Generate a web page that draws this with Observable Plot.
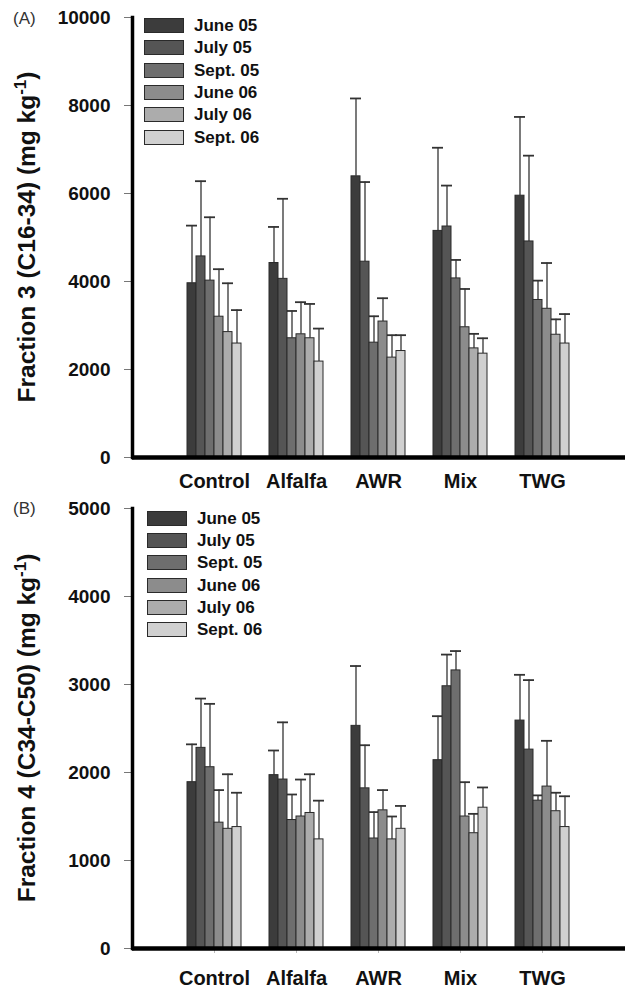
<!DOCTYPE html>
<html><head><meta charset="utf-8">
<script src="https://cdn.jsdelivr.net/npm/d3@7"></script>
<script src="https://cdn.jsdelivr.net/npm/@observablehq/plot@0.6"></script>
<style>
body{margin:0;background:#fff;font-family:"Liberation Sans",Arial,sans-serif;}
.panel{position:relative;width:625px;height:494px;overflow:hidden;background:#fff;}
.panel svg{position:absolute;left:0;top:0;}
.sw{position:absolute;width:38px;height:13px;border:1px solid #2a2a2a;}
.lb{position:absolute;font-size:17px;font-weight:bold;line-height:15px;color:#111;white-space:nowrap;}
</style></head><body>
<div id="A" class="panel"></div>
<div id="B" class="panel"></div>
<script>
const categories = ["Control", "Alfalfa", "AWR", "Mix", "TWG"];
const seasons = ["June 05", "July 05", "Sept. 05", "June 06", "July 06", "Sept. 06"];
const seasonColors = ["#3c3c3c", "#555555", "#6e6e6e", "#8c8c8c", "#acacac", "#d0d0d0"];

// Fraction 3 (C16-34): means and upper error-bar ends, one row per category
const f3Mean = [
  [3960, 4570, 4020, 3200, 2850, 2590],
  [4420, 4060, 2710, 2800, 2710, 2180],
  [6390, 4450, 2610, 3090, 2270, 2420],
  [5150, 5250, 4070, 2960, 2480, 2360],
  [5950, 4910, 3580, 3380, 2790, 2590]
];
const f3Upper = [
  [5270, 6280, 5460, 4280, 3960, 3350],
  [5240, 5880, 3330, 3530, 3490, 2930],
  [8160, 6260, 3210, 3620, 2780, 2780],
  [7040, 6180, 4490, 3830, 2810, 2710],
  [7740, 6860, 4020, 4420, 3140, 3260]
];
// Fraction 4 (C34-C50)
const f4Mean = [
  [1890, 2280, 2060, 1430, 1360, 1380],
  [1970, 1920, 1460, 1500, 1540, 1240],
  [2530, 1820, 1250, 1570, 1240, 1360],
  [2140, 2980, 3160, 1500, 1310, 1600],
  [2590, 2260, 1680, 1840, 1560, 1380]
];
const f4Upper = [
  [2320, 2840, 2780, 1800, 1980, 1770],
  [2250, 2570, 1750, 1920, 1980, 1680],
  [3210, 2310, 1550, 1800, 1500, 1620],
  [2640, 3340, 3380, 1890, 1530, 1830],
  [3110, 3050, 1740, 2360, 1770, 1730]
];
const yTicksA = [0, 2000, 4000, 6000, 8000, 10000];
const yTicksB = [0, 1000, 2000, 3000, 4000, 5000];

const FONT = "Liberation Sans, Arial, sans-serif";

function rows(mean, upper) {
  return categories.flatMap((c, i) => seasons.map((s, j) => ({cat: c, season: s, value: mean[i][j], upper: upper[i][j]})));
}

function panel(el, cfg) {
  const data = rows(cfg.mean, cfg.upper);
  const common = {
    width: 625, height: 494,
    marginLeft: 132, marginRight: 0, marginTop: cfg.mt, marginBottom: cfg.mb
  };
  const ydomain = [0, cfg.ticks[cfg.ticks.length - 1]];
  // Bars, faceted by treatment
  const bars = Plot.plot({
    ...common,
    style: {fontFamily: FONT, background: "#fff", color: "#111"},
    fx: {domain: categories, paddingInner: 0.29, paddingOuter: 0.645, label: null},
    x: {domain: seasons, padding: 0, axis: null},
    y: {domain: ydomain, label: null, axis: null},
    color: {domain: seasons, range: seasonColors},
    marks: [
      Plot.ruleX(data, {fx: "cat", x: "season", y1: "value", y2: "upper", stroke: "#333", strokeWidth: 1.3}),
      Plot.tickY(data, {fx: "cat", x: "season", y: "upper", stroke: "#333", strokeWidth: 1.8, insetLeft: -1, insetRight: -1}),
      Plot.barY(data, {fx: "cat", x: "season", y1: 0, y2: "value", fill: "season", stroke: "#2a2a2a", strokeWidth: 1}),
      Plot.axisFx({anchor: "bottom", tickSize: cfg.fxTick, tickPadding: cfg.fxPad, fontSize: 20, fontWeight: "bold", stroke: "#bbb", fill: "#111", label: null})
    ]
  });
  // Overlay: value axis and axis lines (not faceted)
  const base = Plot.plot({
    ...common,
    style: {fontFamily: FONT, background: "transparent", color: "#111"},
    y: {domain: ydomain, label: null},
    marks: [
      Plot.axisY({ticks: cfg.ticks, tickFormat: d3.format("d"), tickSize: 8, tickPadding: 14, fontSize: 19, fontWeight: "bold", stroke: "#777", fill: "#111", label: null}),
      Plot.frame({anchor: "left", stroke: "#000", strokeWidth: 3.5}),
      Plot.ruleY([0], {stroke: "#000", strokeWidth: 4.5})
    ]
  });
  const svg = d3.select(base);
  svg.append("text").attr("x", 13).attr("y", cfg.tagY).attr("text-anchor", "start")
    .attr("font-size", 17).attr("fill", "#333").attr("font-family", FONT)
    .text(cfg.tag);
  const t = svg.append("text")
    .attr("transform", `translate(35,${(cfg.mt + 494 - cfg.mb) / 2}) rotate(-90)`)
    .attr("text-anchor", "middle").attr("font-size", 24.5).attr("font-weight", "bold")
    .attr("fill", "#111").attr("font-family", FONT);
  t.append("tspan").text(cfg.title + " (mg kg");
  t.append("tspan").attr("dy", -9).attr("font-size", 17).text("-1");
  t.append("tspan").attr("dy", 9).text(")");
  el.appendChild(bars);
  el.appendChild(base);
  seasons.forEach((s, i) => {
    const top = cfg.legTop + i * 22.3;
    const sw = document.createElement("div");
    sw.className = "sw";
    sw.style.left = cfg.legLeft + "px"; sw.style.top = top + "px"; sw.style.background = seasonColors[i];
    el.appendChild(sw);
    const lb = document.createElement("div");
    lb.className = "lb";
    lb.style.left = (cfg.legLeft + 50) + "px"; lb.style.top = top + "px";
    lb.textContent = s;
    el.appendChild(lb);
  });
}

panel(document.getElementById("A"), {mean: f3Mean, upper: f3Upper, ticks: yTicksA, mt: 17, mb: 37, fxTick: 0, fxPad: 16, tag: "(A)", tagY: 24, title: "Fraction 3 (C16-34)", legLeft: 144, legTop: 18});
panel(document.getElementById("B"), {mean: f4Mean, upper: f4Upper, ticks: yTicksB, mt: 14, mb: 40, fxTick: 5, fxPad: 17, tag: "(B)", tagY: 20, title: "Fraction 4 (C34-C50)", legLeft: 147, legTop: 16.7});
</script>
</body></html>
